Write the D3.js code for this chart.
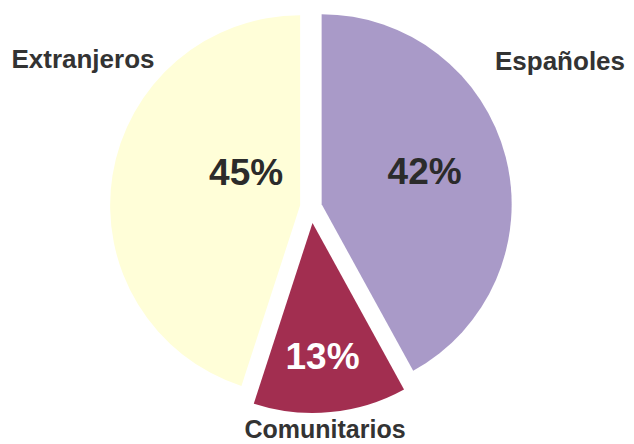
<!DOCTYPE html>
<html>
<head>
<meta charset="utf-8">
<script src="https://cdn.jsdelivr.net/npm/d3@7"></script>
<style>
  html, body { margin: 0; padding: 0; background: #fff; }
  svg text { font-family: 'Liberation Sans', Arial, sans-serif; font-weight: bold; }
</style>
</head>
<body>
<div id="chart"></div>
<script>
// ============================================================
// Data
// ============================================================
const categories = ['Españoles', 'Comunitarios', 'Extranjeros'];
const values = [42, 13, 45];
const sliceColors = ['#a99ac8', '#a22e50', '#fffed8'];
const pctColors = ['#2b2b2b', '#ffffff', '#2b2b2b'];
const explode = [11, 16, 11];

// ============================================================
// Layout
// ============================================================
const width = 634, height = 444;
const cx = 311, cy = 207, radius = 190;

const svg = d3.select('#chart')
    .append('svg')
    .attr('width', width)
    .attr('height', height);

const g = svg.append('g')
    .attr('transform', `translate(${cx}, ${cy})`);

const pie = d3.pie().sort(null).value(d => d);
const arcs = pie(values);
const arc = d3.arc().innerRadius(0).outerRadius(radius);

function offset(d, i) {
    const a = (d.startAngle + d.endAngle) / 2;
    return [Math.sin(a) * explode[i], -Math.cos(a) * explode[i]];
}

const slice = g.selectAll('g.slice')
    .data(arcs)
    .enter()
    .append('g')
    .attr('class', 'slice')
    .attr('transform', (d, i) => `translate(${offset(d, i)})`);

slice.append('path')
    .attr('d', arc)
    .attr('fill', (d, i) => sliceColors[i]);

// percentage labels
const pctPos = [[103, -20], [10, 146], [-54, -20]];
slice.append('text')
    .attr('x', (d, i) => pctPos[i][0])
    .attr('y', (d, i) => pctPos[i][1])
    .attr('text-anchor', 'middle')
    .attr('font-size', 37)
    .attr('fill', (d, i) => pctColors[i])
    .text(d => d.value + '%');

// category labels
const labelPos = [[560, 70], [325, 438], [83, 68]];
svg.selectAll('text.cat')
    .data(categories)
    .enter()
    .append('text')
    .attr('class', 'cat')
    .attr('x', (d, i) => labelPos[i][0])
    .attr('y', (d, i) => labelPos[i][1])
    .attr('text-anchor', 'middle')
    .attr('font-size', (d, i) => i === 1 ? 25 : 26)
    .attr('fill', '#333')
    .text(d => d);
</script>
</body>
</html>
